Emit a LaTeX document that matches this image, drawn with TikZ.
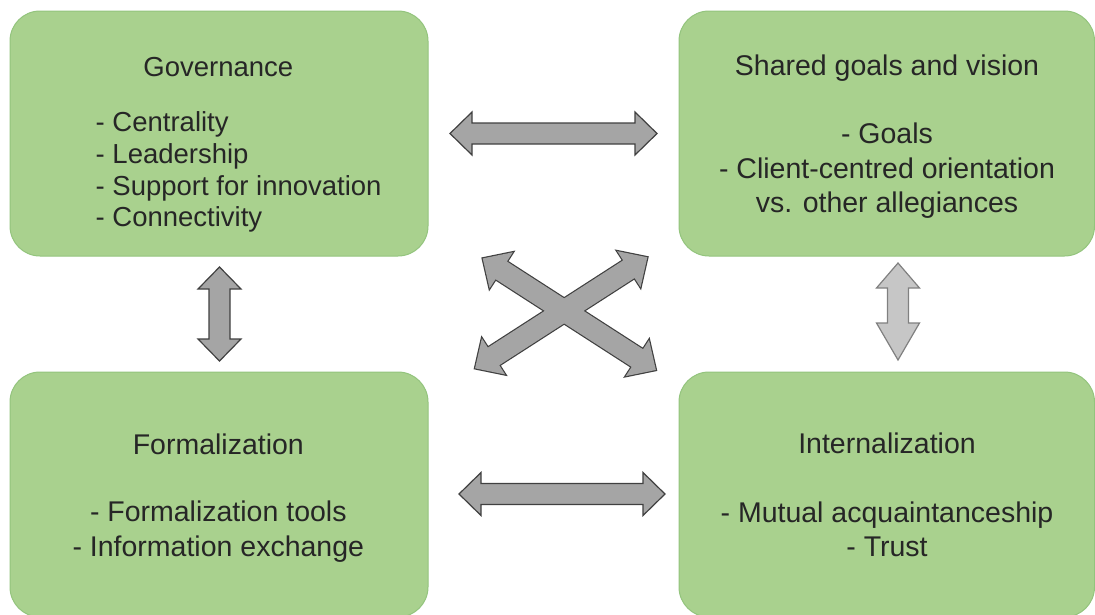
\documentclass[tikz,border=0pt]{standalone}
\usepackage{fontspec}
\setmainfont{Liberation Sans}
\definecolor{boxgreen}{HTML}{A9D18E}
\definecolor{boxline}{HTML}{93C47D}
\definecolor{txtgray}{HTML}{262626}
\definecolor{arrdark}{HTML}{A5A5A5}
\definecolor{arrlight}{HTML}{C6C6C6}
\tikzset{
  topic/.style={draw=boxline, fill=boxgreen, line width=1pt, rounded corners=30pt,
    minimum width=418pt, minimum height=245pt, inner sep=0pt},
  label/.style={anchor=base, inner sep=0pt, text=txtgray},
  darkarrow/.style={fill=arrdark, draw=black!75, line width=1.2pt},
  lightarrow/.style={fill=arrlight, draw=black!50, line width=1.2pt},
  crossline/.style={draw=black!75, line width=2.4pt},
  crossfill/.style={fill=arrdark},
  pics/dblarrow/.style n args={4}{code={
    \path[#4] (-#1/2,0) -- ++(#2,21.5) -- ++(0,-11) -- (#1/2-#3,10.5) -- ++(0,11)
      -- (#1/2,0) -- ++(-#3,-21.5) -- ++(0,11) -- (-#1/2+#2,-10.5) -- ++(0,-11) -- cycle;
  }}
}
\begin{document}
\begin{tikzpicture}[x=1pt,y=-1pt,font=\fontsize{28.5}{34}\selectfont]
  \useasboundingbox (0,0) rectangle (1095,614);
  % boxes
  \node[topic] (governance) at (219,133.5) {};
  \node[topic, minimum width=415.5pt] (shared) at (886.75,133.5) {};
  \node[topic] (formalization) at (219,494.5) {};
  \node[topic, minimum width=415.5pt] (internalization) at (886.75,494.5) {};
  % arrows
  \pic at (553.5,133.5) {dblarrow={207}{22}{22}{darkarrow}};
  \pic at (562,494) {dblarrow={206}{22}{22}{darkarrow}};
  \pic[rotate=90] at (219.5,314) {dblarrow={94}{22}{22}{darkarrow}};
  \pic[rotate=90] at (898,311.5) {dblarrow={97}{37}{25}{lightarrow}};
  % crossed arrows: outline first, fill on top so they merge
  \pic[rotate=-32.8] at (569.3,314.2) {dblarrow={206}{22}{22}{crossline}};
  \pic[rotate=32.8] at (561.2,312.8) {dblarrow={205}{22}{22}{crossline}};
  \pic[rotate=-32.8] at (569.3,314.2) {dblarrow={206}{22}{22}{crossfill}};
  \pic[rotate=32.8] at (561.2,312.8) {dblarrow={205}{22}{22}{crossfill}};
  % texts
  \begin{scope}[font=\fontsize{27.5}{32}\selectfont]
    \node[label] (gov-title) at (218.3,76) {Governance};
    \node[label, anchor=base west] (gov-a) at (95.5,131.7) {- Centrality};
    \node[label, anchor=base west] (gov-b) at (95.5,163.3) {- Leadership};
    \node[label, anchor=base west] (gov-c) at (95.5,195) {- Support for innovation};
    \node[label, anchor=base west] (gov-d) at (95.5,226.7) {- Connectivity};
  \end{scope}
  \node[label] (shared-title) at (887,75) {Shared goals and vision};
  \node[label] (shared-a) at (887,143.3) {- Goals};
  \node[label] (shared-b) at (887,178.3) {- Client-centred orientation};
  \node[label] (shared-c) at (887,212.3) {vs. other allegiances};
  \node[label] (form-title) at (218.3,454) {Formalization};
  \node[label] (form-a) at (218.3,521.7) {- Formalization tools};
  \node[label] (form-b) at (218.3,556) {- Information exchange};
  \node[label] (int-title) at (887,453.3) {Internalization};
  \node[label] (int-a) at (887,522.7) {- Mutual acquaintanceship};
  \node[label] (int-b) at (887,556) {- Trust};
\end{tikzpicture}
\end{document}
